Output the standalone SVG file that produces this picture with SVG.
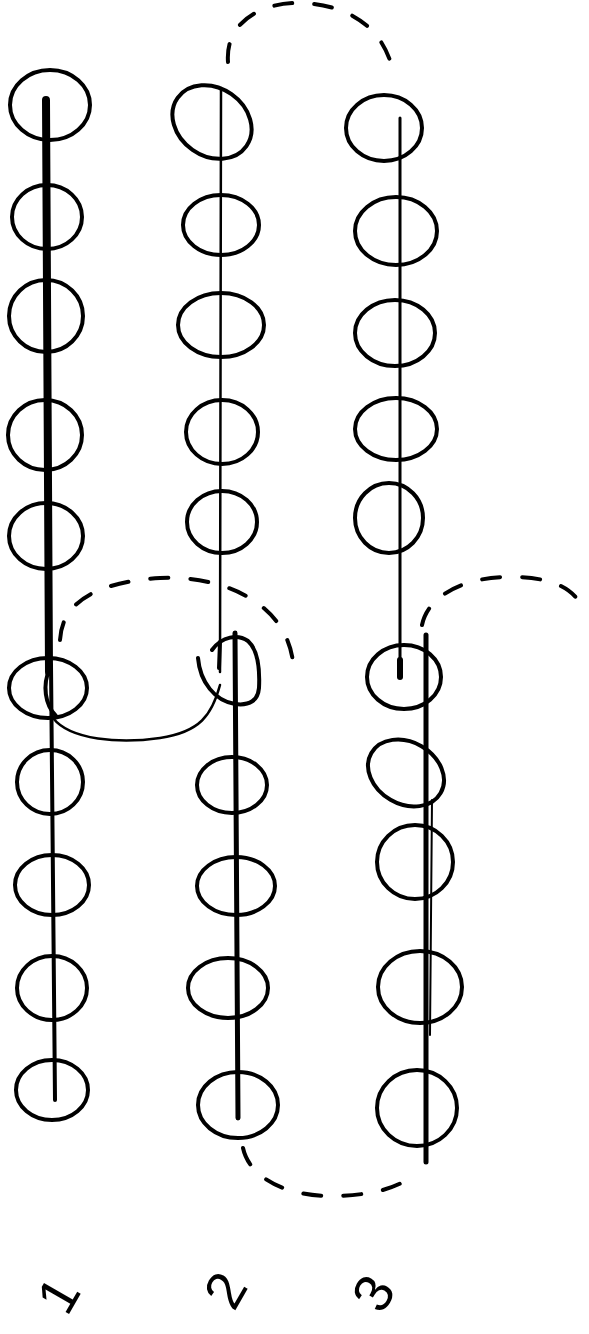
<svg xmlns="http://www.w3.org/2000/svg" width="589" height="1334" viewBox="0 0 589 1334">
<style>
.bead{fill:none;stroke:#000;stroke-width:4;stroke-linecap:round}
.str{fill:none;stroke:#000;stroke-linecap:round}
.loop{fill:none;stroke:#000;stroke-width:4;stroke-dasharray:18 22;stroke-linecap:round}
.lbl{font-family:"Liberation Sans",Arial,sans-serif;font-size:54px;fill:#000;text-anchor:middle;dominant-baseline:central}
</style>
<rect width="589" height="1334" fill="#fff"/>
<g id="connectors">
<!-- column strings -->
<path class="str" d="M46 100 L49 672" stroke-width="8"/>
<path class="str" d="M51 665 L55 1100" stroke-width="4"/>
<path class="str" d="M221 88 L220 672" stroke-width="2.5"/>
<path class="str" d="M235 633 L238 1118" stroke-width="5"/>
<path class="str" d="M400 118 L400 662" stroke-width="3"/>
<path class="str" d="M400 660 L400 677" stroke-width="6"/>
<path class="str" d="M426 635 L426 1162" stroke-width="5"/>
<path class="str" d="M432 800 L430 1035" stroke-width="2"/>
<!-- link between column 1 and 2 -->
<path class="str" d="M53 718 C 70 740, 120 744, 160 738 C 200 732, 212 715, 220 685" stroke-width="2.5"/>
<!-- dashed loops -->
<path class="loop" d="M228 62 C 225 20, 265 2, 300 3 C 345 4, 385 25, 394 76"/>
<path class="loop" d="M60 640 C 62 600, 100 582, 160 578 C 215 575, 285 598, 293 662"/>
<path class="loop" d="M422 625 C 428 595, 465 578, 505 577 C 545 576, 572 585, 582 607"/>
<path class="loop" d="M243 1148 C 250 1180, 290 1196, 330 1196 C 370 1196, 398 1188, 412 1176"/>
</g>
<g id="col1">
<g id="n1-1"><ellipse class="bead" cx="50" cy="105" rx="40" ry="35"/></g>
<g id="n1-2"><ellipse class="bead" cx="47" cy="217" rx="35" ry="32"/></g>
<g id="n1-3"><ellipse class="bead" cx="46" cy="316" rx="37" ry="36"/></g>
<g id="n1-4"><ellipse class="bead" cx="45" cy="435" rx="37" ry="35"/></g>
<g id="n1-5"><ellipse class="bead" cx="46" cy="536" rx="37" ry="33"/></g>
<g id="n1-6"><ellipse class="bead" cx="48" cy="688" rx="39" ry="30"/><path class="bead" d="M50 668 C 42 685, 45 705, 56 716" stroke-width="3"/></g>
<g id="n1-7"><ellipse class="bead" cx="50" cy="782" rx="33" ry="32"/></g>
<g id="n1-8"><ellipse class="bead" cx="52" cy="885" rx="37" ry="30"/></g>
<g id="n1-9"><ellipse class="bead" cx="52" cy="988" rx="35" ry="32"/></g>
<g id="n1-10"><ellipse class="bead" cx="52" cy="1090" rx="36" ry="30"/></g>
</g>
<g id="col2">
<g id="n2-1"><ellipse class="bead" cx="212" cy="122" rx="42" ry="34" transform="rotate(35 212 122)"/></g>
<g id="n2-2"><ellipse class="bead" cx="221" cy="225" rx="38" ry="30"/></g>
<g id="n2-3"><ellipse class="bead" cx="221" cy="325" rx="43" ry="32"/></g>
<g id="n2-4"><ellipse class="bead" cx="222" cy="432" rx="36" ry="32"/></g>
<g id="n2-5"><ellipse class="bead" cx="222" cy="522" rx="35" ry="31"/></g>
<g id="n2-6"><path class="bead" d="M198 658 C 200 682, 215 701, 235 704 C 250 706, 258 700, 259 688 C 260 668, 258 650, 248 641 C 238 634, 222 636, 212 650"/><path class="bead" d="M220 642 L219 668"/></g>
<g id="n2-7"><ellipse class="bead" cx="232" cy="785" rx="35" ry="28"/></g>
<g id="n2-8"><ellipse class="bead" cx="236" cy="886" rx="39" ry="29"/></g>
<g id="n2-9"><ellipse class="bead" cx="228" cy="988" rx="40" ry="30"/></g>
<g id="n2-10"><ellipse class="bead" cx="238" cy="1105" rx="40" ry="33"/></g>
</g>
<g id="col3">
<g id="n3-1"><ellipse class="bead" cx="384" cy="128" rx="38" ry="33"/></g>
<g id="n3-2"><ellipse class="bead" cx="396" cy="231" rx="41" ry="34"/></g>
<g id="n3-3"><ellipse class="bead" cx="395" cy="333" rx="40" ry="33"/></g>
<g id="n3-4"><ellipse class="bead" cx="396" cy="429" rx="41" ry="31"/></g>
<g id="n3-5"><ellipse class="bead" cx="389" cy="518" rx="34" ry="35"/></g>
<g id="n3-6"><ellipse class="bead" cx="404" cy="677" rx="37" ry="32"/></g>
<g id="n3-7"><ellipse class="bead" cx="406" cy="773" rx="40" ry="31" transform="rotate(30 406 773)"/></g>
<g id="n3-8"><ellipse class="bead" cx="415" cy="862" rx="38" ry="37"/></g>
<g id="n3-9"><ellipse class="bead" cx="420" cy="987" rx="42" ry="36"/></g>
<g id="n3-10"><ellipse class="bead" cx="417" cy="1108" rx="40" ry="38"/></g>
</g>
<g id="labels">
<text class="lbl" x="58" y="1295" transform="rotate(-60 58 1295)">1</text>
<text class="lbl" x="225" y="1290" transform="rotate(-60 225 1290)">2</text>
<text class="lbl" x="373" y="1293" transform="rotate(-60 373 1293)">3</text>
</g>
</svg>
